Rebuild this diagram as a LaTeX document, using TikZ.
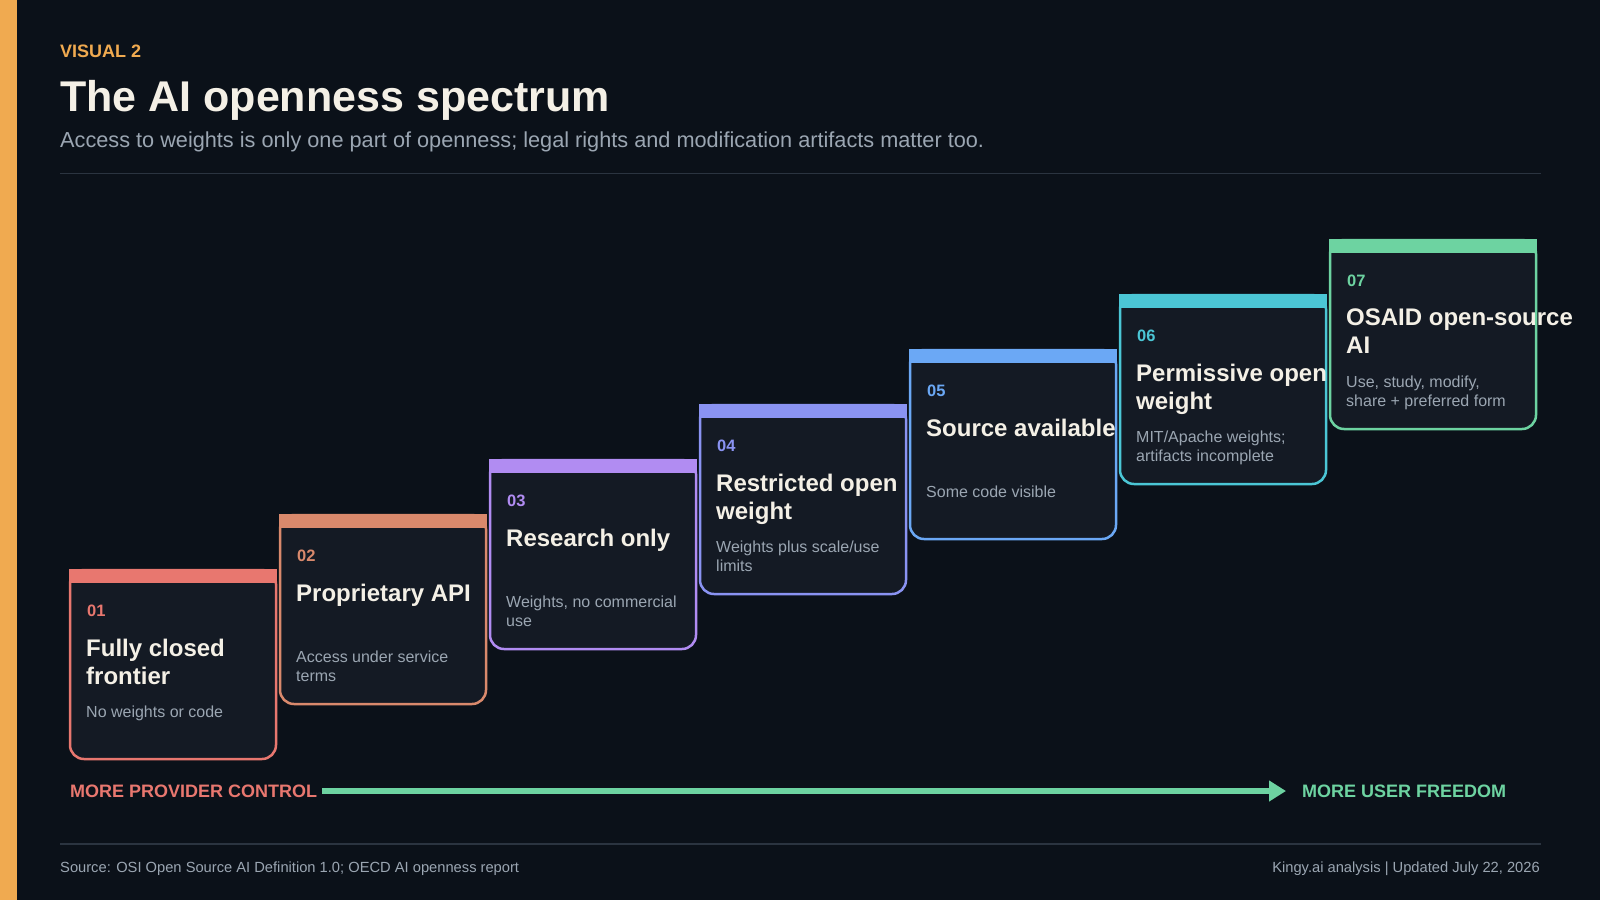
\documentclass[tikz,border=0pt]{standalone}
\usepackage{fontspec}
\setmainfont{Liberation Sans}
\usepackage{xcolor}
\definecolor{bgdark}{RGB}{11,17,25}
\definecolor{cardfill}{RGB}{20,26,36}
\definecolor{accentorange}{RGB}{240,170,80}
\definecolor{titlecream}{RGB}{244,240,230}
\definecolor{subgrey}{RGB}{155,166,178}
\definecolor{rulegrey}{RGB}{43,52,64}
\definecolor{specA}{RGB}{232,119,111}
\definecolor{specB}{RGB}{217,137,108}
\definecolor{specC}{RGB}{177,140,242}
\definecolor{specD}{RGB}{138,147,242}
\definecolor{specE}{RGB}{107,168,245}
\definecolor{specF}{RGB}{75,198,213}
\definecolor{specG}{RGB}{109,211,161}
\usetikzlibrary{arrows.meta,positioning,calc}

\tikzset{
  cardbox/.style={draw,line width=2.5pt,fill=cardfill,rounded corners=14pt,minimum width=206pt,minimum height=189pt,anchor=north west,inner sep=0pt,outer sep=0pt},
  cardnum/.style={anchor=west,inner sep=0pt,font=\fontsize{16.5}{19}\selectfont\bfseries},
  cardttl/.style={anchor=north west,inner sep=0pt,align=left,text=titlecream,font=\fontsize{24}{28}\selectfont\bfseries},
  carddsc/.style={anchor=north west,inner sep=0pt,align=left,text=subgrey,font=\fontsize{16}{19}\selectfont},
  endlbl/.style={anchor=west,inner sep=0pt,font=\fontsize{18}{21}\selectfont\bfseries},
  footlbl/.style={inner sep=0pt,text=subgrey,font=\fontsize{14.7}{18}\selectfont},
  arrowln/.style={specG,line width=5.5pt,-{Triangle[length=17pt,width=20pt]}}
}

\begin{document}
\begin{tikzpicture}[x=1pt,y=-1pt]
  \fill[bgdark] (0,0) rectangle (1600,900);
  \useasboundingbox (0,0) rectangle (1600,900);
  \fill[accentorange] (0,0) rectangle (16.5,900);
  \node[anchor=west,inner sep=0pt,text=accentorange,font=\fontsize{18}{21}\selectfont\bfseries] (kicker) at (60,51.5) {VISUAL 2};
  \node[anchor=west,inner sep=0pt,text=titlecream,font=\fontsize{43}{50}\selectfont\bfseries] (title) at (60,100) {The AI openness spectrum};
  \node[anchor=west,inner sep=0pt,text=subgrey,font=\fontsize{21.7}{26}\selectfont] (subtitle) at (60,142) {Access to weights is only one part of openness; legal rights and modification artifacts matter too.};
  \draw[rulegrey,line width=1.5pt] (60,173.5) -- (1541,173.5);
  \foreach \i/\col/\ttl/\dsc in {1/specA/{Fully closed\\frontier}/{No weights or code},
      2/specB/{Proprietary API}/{Access under service\\terms},
      3/specC/{Research only}/{Weights, no commercial\\use},
      4/specD/{Restricted open\\weight}/{Weights plus scale/use\\limits},
      5/specE/{Source available}/{Some code visible},
      6/specF/{Permissive open\\weight}/{MIT/Apache weights;\\artifacts incomplete},
      7/specG/{OSAID open-source\\AI}/{Use, study, modify,\\share + preferred form}}{
    \node[cardbox,draw=\col] (card\i) at ({70+210*(\i-1)},{570-55*(\i-1)}) {};
    \fill[\col] ([shift={(-1.25,-1.25)}]card\i.north west) rectangle ([shift={(1.25,13)}]card\i.north east);
    \node[cardnum,text=\col] (num\i) at ([shift={(17,41)}]card\i.north west) {0\i};
    \node[cardttl] (ttl\i) at ([shift={(16,69)}]card\i.north west) {\ttl};
    \node[carddsc] (dsc\i) at ([shift={(16,136)}]card\i.north west) {\dsc};
  }
  \node[endlbl,text=specA] (ctrl) at (70,791) {MORE PROVIDER CONTROL};
  \node[endlbl,text=specG] (free) at (1302,791) {MORE USER FREEDOM};
  \draw[arrowln,shorten <=5pt,shorten >=16pt] (ctrl.east) -- (free.west);
  \draw[rulegrey,line width=1.2pt] (60,844) -- (1541,844);
  \node[footlbl,anchor=west] (source) at (60,869) {Source: OSI Open Source AI Definition 1.0; OECD AI openness report};
  \node[footlbl,anchor=east] (credit) at (1540,869) {Kingy.ai analysis | Updated July 22, 2026};
\end{tikzpicture}
\end{document}
